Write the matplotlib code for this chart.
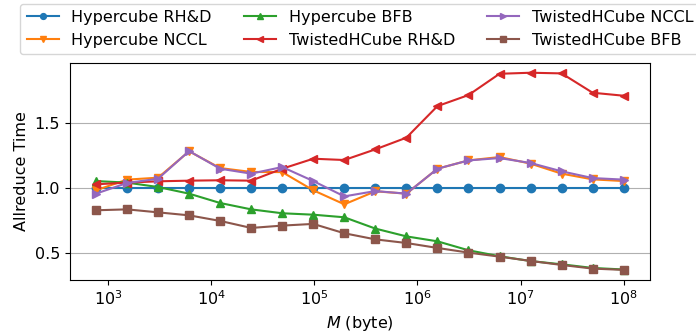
import numpy as np
import matplotlib
matplotlib.use('Agg')
import matplotlib.pyplot as plt
from matplotlib.ticker import NullLocator

plt.rcParams['font.size'] = 11.5

# message sizes: 1e8 / 2^k, k = 17..0
sizes = [1e8 / 2**k for k in range(17, -1, -1)]

hc_rhd = [1.0] * 18
hc_nccl = [0.985, 1.067, 1.082, 1.285, 1.156, 1.126, 1.125, 0.985, 0.877, 0.977,
           0.959, 1.151, 1.215, 1.241, 1.19, 1.113, 1.069, 1.056]
hc_bfb = [1.056, 1.044, 1.01, 0.959, 0.887, 0.838, 0.808, 0.797, 0.777, 0.69,
          0.63, 0.592, 0.523, 0.477, 0.44, 0.415, 0.387, 0.375]
tw_rhd = [1.031, 1.044, 1.054, 1.059, 1.062, 1.059, 1.151, 1.228, 1.218, 1.30,
          1.39, 1.633, 1.718, 1.882, 1.89, 1.885, 1.736, 1.713]
tw_nccl = [0.959, 1.041, 1.074, 1.287, 1.151, 1.113, 1.164, 1.056, 0.938, 0.979,
           0.959, 1.151, 1.215, 1.233, 1.195, 1.131, 1.079, 1.067]
tw_bfb = [0.831, 0.838, 0.815, 0.792, 0.749, 0.695, 0.713, 0.726, 0.654, 0.607,
          0.579, 0.541, 0.505, 0.474, 0.441, 0.41, 0.382, 0.372]

fig = plt.figure(figsize=(6.96, 3.34), dpi=100)
ax = fig.add_axes([0.1, 0.162, 0.834, 0.649])

ax.plot(sizes, hc_rhd, '-o', label='Hypercube RH&D')
ax.plot(sizes, hc_nccl, '-v', label='Hypercube NCCL')
ax.plot(sizes, hc_bfb, '-^', label='Hypercube BFB')
ax.plot(sizes, tw_rhd, '-<', label='TwistedHCube RH&D')
ax.plot(sizes, tw_nccl, '->', label='TwistedHCube NCCL')
ax.plot(sizes, tw_bfb, '-s', label='TwistedHCube BFB')

ax.set_xscale('log')
ax.xaxis.set_minor_locator(NullLocator())
ax.set_ylim(0.295, 1.964)
ax.set_yticks([0.5, 1.0, 1.5])
ax.yaxis.grid(True)
ax.set_axisbelow(True)
ax.set_xlabel(r'$M$ (byte)')
ax.set_ylabel('Allreduce Time')

ax.legend(loc='lower center', bbox_to_anchor=(0.5, 1.04), ncol=3,
          markerscale=0.7, borderaxespad=0.0)

plt.savefig('out.png', dpi=100)
